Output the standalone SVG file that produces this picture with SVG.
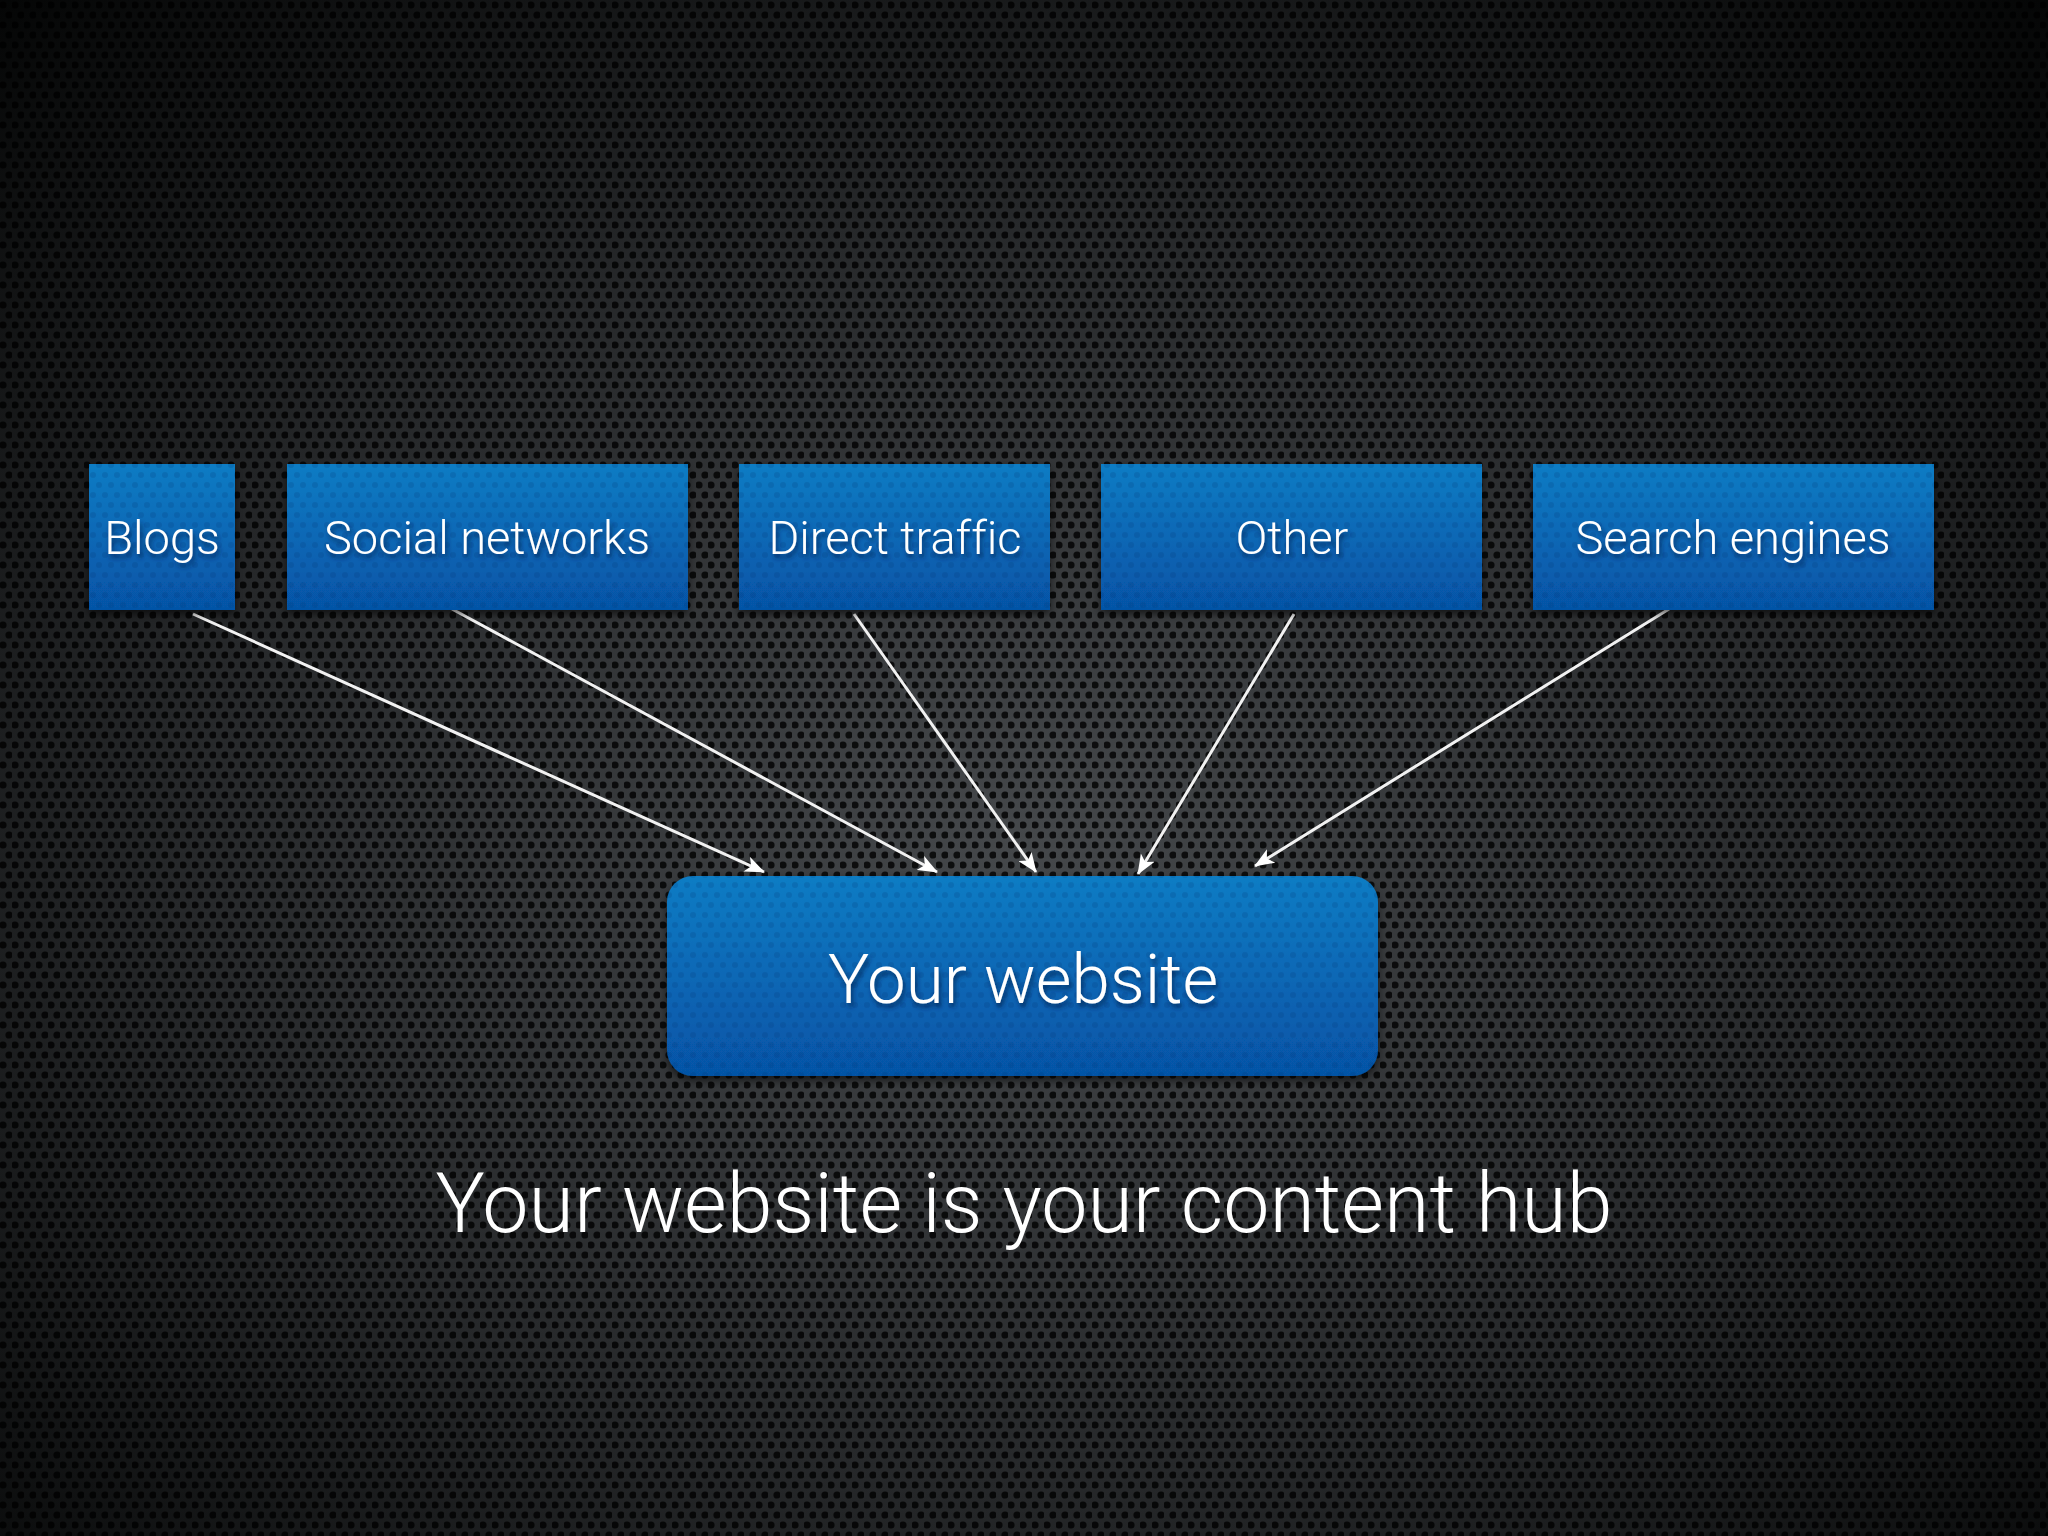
<svg xmlns="http://www.w3.org/2000/svg" width="2048" height="1536" viewBox="0 0 2048 1536">
<defs>
<radialGradient id="bg" cx="0.5" cy="0.55" r="0.75">
<stop offset="0" stop-color="#45484b"/>
<stop offset="0.55" stop-color="#26282a"/>
<stop offset="1" stop-color="#040505"/>
</radialGradient>
<pattern id="holes" width="12" height="20" patternUnits="userSpaceOnUse">
<circle cx="3" cy="5" r="3.6" fill="#000" fill-opacity="0.8"/>
<circle cx="9" cy="15" r="3.6" fill="#000" fill-opacity="0.8"/>
</pattern>
<linearGradient id="box" x1="0" y1="0" x2="0" y2="1">
<stop offset="0" stop-color="#0b7cc4"/>
<stop offset="1" stop-color="#0653a6"/>
</linearGradient>
<pattern id="boxholes" width="12" height="20" patternUnits="userSpaceOnUse">
<circle cx="3" cy="5" r="3" fill="#003070" fill-opacity="0.18"/>
<circle cx="9" cy="15" r="3" fill="#003070" fill-opacity="0.18"/>
</pattern>
<filter id="shadow" x="-10%" y="-10%" width="120%" height="130%">
<feDropShadow dx="0" dy="4" stdDeviation="4" flood-color="#000" flood-opacity="0.6"/>
</filter>
<filter id="tshadow" x="-10%" y="-20%" width="120%" height="150%">
<feDropShadow dx="2" dy="4" stdDeviation="2.5" flood-color="#002050" flood-opacity="0.75"/>
</filter>
<marker id="arrowL" viewBox="0 0 20 16" refX="19" refY="8" markerWidth="20" markerHeight="16" markerUnits="userSpaceOnUse" orient="auto">
<path d="M0,0 L20,8 L0,16 L5,8 Z" fill="#fff"/>
</marker>
</defs>
<style>
.node rect { fill: url(#box); filter: url(#shadow); }
.node .tex { fill: url(#boxholes); filter: none; }
.lbl { font-family: Roboto, "Liberation Sans", Arial, sans-serif; font-weight: 300; fill: #fff; text-anchor: middle; filter: url(#tshadow); font-variant-ligatures: none; }
.conn line { stroke: #f2f2f2; stroke-width: 3; marker-end: url(#arrowL); }
</style>
<rect width="2048" height="1536" fill="url(#bg)"/>
<rect width="2048" height="1536" fill="url(#holes)"/>

<g id="connectors" class="conn">
<line x1="193" y1="614" x2="764" y2="872"/>
<line x1="452" y1="609" x2="937" y2="872"/>
<line x1="854" y1="614" x2="1036" y2="872"/>
<line x1="1294" y1="614" x2="1138" y2="874"/>
<line x1="1669" y1="609" x2="1255" y2="866"/>
</g>

<g id="blogs" class="node">
<rect x="89" y="464" width="146" height="146"/>
<rect class="tex" x="89" y="464" width="146" height="146"/>
<text class="lbl" x="162" y="554" font-size="47">Blogs</text>
</g>
<g id="social" class="node">
<rect x="287" y="464" width="401" height="146"/>
<rect class="tex" x="287" y="464" width="401" height="146"/>
<text class="lbl" x="487" y="554" font-size="47">Social networks</text>
</g>
<g id="direct" class="node">
<rect x="739" y="464" width="311" height="146"/>
<rect class="tex" x="739" y="464" width="311" height="146"/>
<text class="lbl" x="895" y="554" font-size="47">Direct traffic</text>
</g>
<g id="other" class="node">
<rect x="1101" y="464" width="381" height="146"/>
<rect class="tex" x="1101" y="464" width="381" height="146"/>
<text class="lbl" x="1292" y="554" font-size="47">Other</text>
</g>
<g id="search" class="node">
<rect x="1533" y="464" width="401" height="146"/>
<rect class="tex" x="1533" y="464" width="401" height="146"/>
<text class="lbl" x="1733" y="554" font-size="47">Search engines</text>
</g>
<g id="website" class="node">
<rect x="667" y="876" width="711" height="200" rx="26" ry="26"/>
<rect class="tex" x="667" y="876" width="711" height="200" rx="26" ry="26"/>
<text class="lbl" x="1023" y="1003" font-size="69">Your website</text>
</g>

<text id="caption" x="1024" y="1232" font-family="Roboto, Liberation Sans, Arial, sans-serif" font-weight="300" font-size="82.5" fill="#fff" text-anchor="middle">Your website is your content hub</text>
</svg>
